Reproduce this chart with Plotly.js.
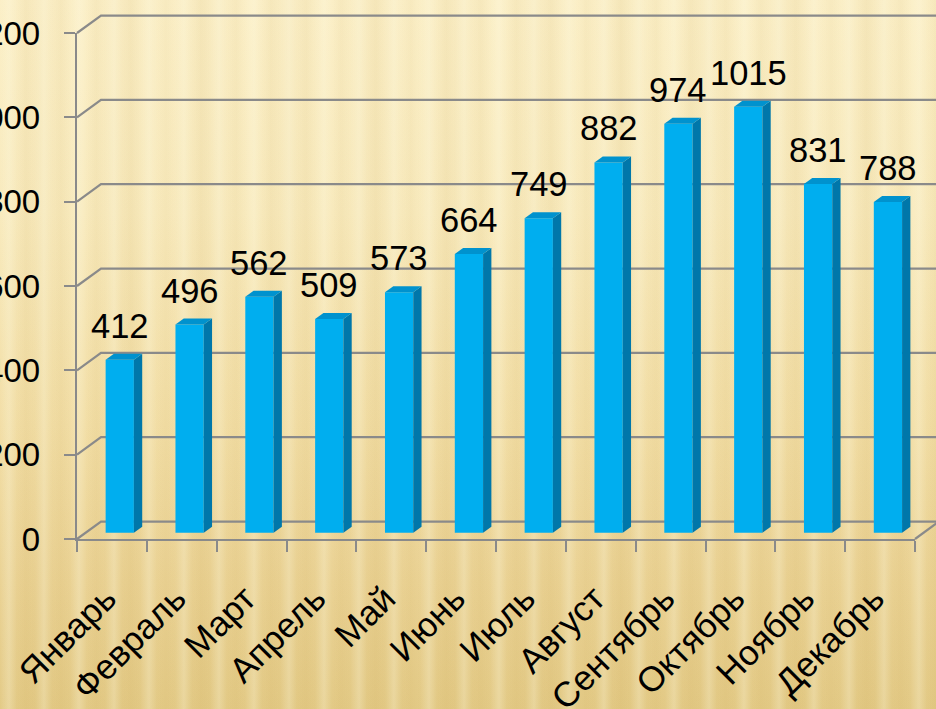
<!DOCTYPE html>
<html>
<head>
<meta charset="utf-8">
<script src="https://cdn.plot.ly/plotly-3.0.1.min.js"></script>
<style>
  html, body { margin: 0; padding: 0; }
  body {
    width: 936px; height: 709px; overflow: hidden;
    background:
      repeating-linear-gradient(90deg,
        rgba(255,252,230,0.00) 0px,
        rgba(255,252,230,0.26) 9px,
        rgba(255,252,230,0.00) 17px,
        rgba(190,150,60,0.06) 26px,
        rgba(255,252,230,0.00) 35px),
      repeating-linear-gradient(90deg,
        rgba(190,150,60,0.00) 0px,
        rgba(190,150,60,0.05) 40px,
        rgba(190,150,60,0.00) 83px),
      linear-gradient(180deg, #FBEFC7 0%, #F8EABD 30%, #F2DEA6 60%, #EAD294 82%, #E3CA86 100%);
  }
  #chart { width: 936px; height: 709px; }
</style>
</head>
<body>
<div id="chart"></div>
<script>
// ---- data ----
const months = ['Январь','Февраль','Март','Апрель','Май','Июнь','Июль','Август','Сентябрь','Октябрь','Ноябрь','Декабрь'];
const values = [412, 496, 562, 509, 573, 664, 749, 882, 974, 1015, 831, 788];
const yTickVals = [0, 200, 400, 600, 800, 1000, 1200];

// ---- geometry (pixels) ----
const W = 936, H = 709;
const L = 77, R = 915, T = 32.5, B = 539.5;
const plotW = R - L, plotH = B - T;
const yMax = 1200;
const wallDX = 24, wallDY = 17.5;          // back-wall perspective offset
const barBasePx = 533.3;                   // pixel row of bar base
const barScale = 0.4207;                   // px per unit for bars
const y2lo = -(B - barBasePx) / barScale;
const y2hi = y2lo + plotH / barScale;
const catPx = plotW / months.length;
const barOffset = -0.09, barWidth = 0.405;
const depthDX = 8.3 / catPx, depthDY = 6 / barScale;

const gridColor = '#8A8A8A';
const frontColor = '#00AEEF', sideColor = '#0077AA', topColor = '#0092CE';

const shapes = [];
const wx = wallDX / plotW, wy = wallDY / plotH;
yTickVals.forEach(v => {
  const f = v / yMax;
  shapes.push({
    type: 'path', xref: 'paper', yref: 'paper', layer: 'below',
    path: `M 0,${f} L ${wx},${f + wy} L ${1 + wx + 0.05},${f + wy}`,
    line: { color: gridColor, width: 2.2 }
  });
});
shapes.push({
  type: 'path', xref: 'paper', yref: 'paper', layer: 'below',
  path: `M 1,0 L ${1 + wx},${wy}`,
  line: { color: gridColor, width: 2.2 }
});

values.forEach((v, i) => {
  const xl = i + barOffset, xr = xl + barWidth;
  shapes.push({
    type: 'path', xref: 'x', yref: 'y2', layer: 'above',
    path: `M ${xr},0 L ${xr + depthDX},${depthDY} L ${xr + depthDX},${v + depthDY} L ${xr},${v} Z`,
    fillcolor: sideColor, line: { width: 0 }
  });
  shapes.push({
    type: 'path', xref: 'x', yref: 'y2', layer: 'above',
    path: `M ${xl},${v} L ${xr},${v} L ${xr + depthDX},${v + depthDY} L ${xl + depthDX},${v + depthDY} Z`,
    fillcolor: topColor, line: { width: 0 }
  });
});

const annotations = values.map((v, i) => ({
  x: i + barOffset + barWidth / 2, y: v, xref: 'x', yref: 'y2',
  text: String(v), showarrow: false, yanchor: 'bottom', yshift: 13,
  font: { family: 'Liberation Sans, Arial, sans-serif', size: 34.5, color: '#000' }
}));

const barTrace = {
  type: 'bar',
  x: months.map((_, i) => i),
  y: values,
  xaxis: 'x', yaxis: 'y2',
  width: barWidth, offset: barOffset,
  marker: { color: frontColor, line: { width: 0 } },
  hovertext: months,
  cliponaxis: false
};
// invisible helpers so that the label axes are drawn
const helperY = { type: 'scatter', mode: 'markers', x: [null], y: [null], xaxis: 'x', yaxis: 'y', hoverinfo: 'skip', showlegend: false };
const helperX = { type: 'scatter', mode: 'markers', x: [null], y: [null], xaxis: 'x2', yaxis: 'y', hoverinfo: 'skip', showlegend: false };

const yFont = { family: 'Liberation Sans, Arial, sans-serif', size: 33, color: '#000' };
const xFont = { family: 'Liberation Sans, Arial, sans-serif', size: 35, color: '#000' };

const layout = {
  width: W, height: H,
  margin: { l: L, r: W - R, t: T, b: H - B, pad: 0 },
  paper_bgcolor: 'rgba(0,0,0,0)',
  plot_bgcolor: 'rgba(0,0,0,0)',
  showlegend: false,
  xaxis: {
    type: 'linear', range: [-0.5, months.length - 0.5], fixedrange: true,
    tickmode: 'array',
    tickvals: months.map((_, i) => i - 0.5).concat([months.length - 0.5]),
    showticklabels: false, ticks: 'outside', ticklen: 11, tickwidth: 2, tickcolor: gridColor,
    showline: true, linecolor: gridColor, linewidth: 2.2,
    showgrid: false, zeroline: false, anchor: 'y'
  },
  xaxis2: {
    type: 'linear', overlaying: 'x', anchor: 'y', side: 'bottom',
    range: [-0.5, months.length - 0.5], fixedrange: true,
    tickmode: 'array', tickvals: months.map((_, i) => i), ticktext: months,
    ticks: '', tickangle: -45, tickfont: xFont, ticklabelstandoff: 31, ticklabelshift: -6,
    showline: false, showgrid: false, zeroline: false, automargin: false
  },
  yaxis: {
    range: [0, yMax], fixedrange: true, anchor: 'x',
    tickmode: 'array', tickvals: yTickVals, ticktext: yTickVals.map(String),
    ticks: 'outside', ticklen: 11, tickwidth: 2, tickcolor: gridColor,
    tickfont: yFont, ticklabelstandoff: 17,
    showline: true, linecolor: gridColor, linewidth: 2.2,
    showgrid: false, zeroline: false, automargin: false
  },
  yaxis2: {
    range: [y2lo, y2hi], overlaying: 'y', visible: false, fixedrange: true, anchor: 'x'
  },
  shapes: shapes,
  annotations: annotations
};

Plotly.newPlot('chart', [helperY, helperX, barTrace], layout, { displayModeBar: false, staticPlot: true });
</script>
</body>
</html>
